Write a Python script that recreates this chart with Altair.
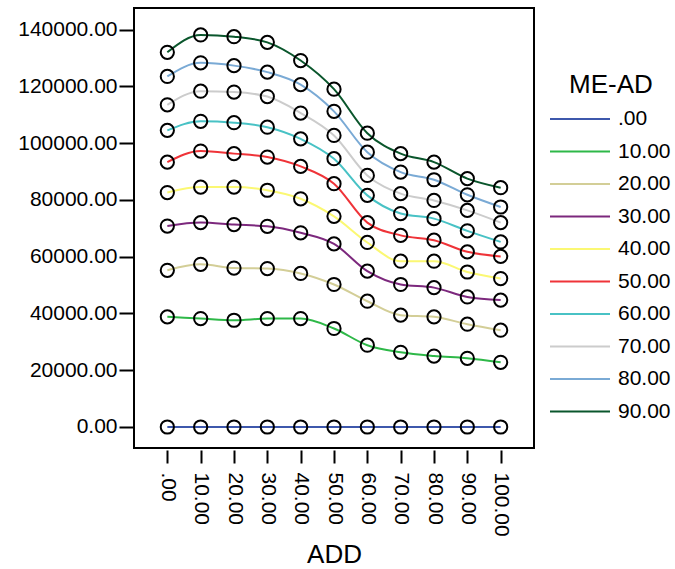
import altair as alt
import pandas as pd

add_labels = [".00", "10.00", "20.00", "30.00", "40.00", "50.00",
              "60.00", "70.00", "80.00", "90.00", "100.00"]
series_labels = [".00", "10.00", "20.00", "30.00", "40.00",
                 "50.00", "60.00", "70.00", "80.00", "90.00"]
colors = ["#3E58AC", "#2EB848", "#D3CE97", "#7C287D", "#FBF873",
          "#EF3338", "#48C2C5", "#CCCCCC", "#7AAAD5", "#0A562C"]

s00 = [0, 0, 0, 0, 0, 0, 0, 0, 0, 0, 0]
s10 = [38800, 38200, 37600, 38200, 38200, 34700, 28800, 26300, 25000, 24200, 22800]
s20 = [55200, 57300, 56000, 55800, 54100, 50200, 44300, 39400, 38800, 36200, 34100]
s30 = [70800, 72000, 71300, 70700, 68400, 64500, 54900, 50200, 49100, 45800, 44700]
s40 = [82600, 84500, 84500, 83400, 80400, 74200, 65000, 58400, 58400, 54600, 52300]
s50 = [93300, 97200, 96300, 95100, 91800, 85700, 72000, 67500, 65800, 61700, 60100]
s60 = [104500, 107700, 107200, 105600, 101500, 94500, 81600, 75200, 73400, 69100, 65200]
s70 = [113500, 118300, 118000, 116400, 110600, 102700, 88600, 82200, 79800, 76300, 72000]
s80 = [123500, 128300, 127300, 125000, 120600, 111200, 96800, 89800, 87100, 81800, 77500]
s90 = [132000, 138100, 137500, 135500, 129100, 119000, 103500, 96300, 93300, 87500, 84300]

all_series = [s00, s10, s20, s30, s40, s50, s60, s70, s80, s90]
y_ticks = [0, 20000, 40000, 60000, 80000, 100000, 120000, 140000]

rows = []
for name, vals in zip(series_labels, all_series):
    for a, v in zip(add_labels, vals):
        rows.append({"ADD": a, "series": name, "value": v})
df = pd.DataFrame(rows)

x_enc = alt.X("ADD:N", sort=add_labels,
              scale=alt.Scale(type="point", padding=1.13),
              axis=alt.Axis(title="ADD", domain=False, offset=2, tickSize=13,
                            tickWidth=2, tickColor="black", labelAngle=90,
                            labelFontSize=21, labelPadding=9, labelColor="black",
                            titleFontSize=26, titleFontWeight="normal",
                            titleColor="black", titlePadding=5))
y_enc = alt.Y("value:Q",
              scale=alt.Scale(domain=[-7400, 147600], nice=False, zero=False),
              axis=alt.Axis(title=None, domain=False, grid=False, values=y_ticks,
                            format=".2f", tickSize=15, tickWidth=2,
                            tickColor="black", labelFontSize=21, labelPadding=2,
                            labelColor="black"))

base = alt.Chart(df)
lines = base.mark_line(interpolate="monotone", strokeWidth=2).encode(
    x=x_enc, y=y_enc,
    color=alt.Color("series:N", sort=series_labels,
                    scale=alt.Scale(domain=series_labels, range=colors),
                    legend=alt.Legend(title="ME-AD", orient="none",
                                      legendX=435, legendY=64,
                                      titleFontSize=26, titleFontWeight="normal",
                                      titleColor="black", labelFontSize=21,
                                      labelColor="black",
                                      symbolType="M-3,0H3", symbolSize=400,
                                      symbolStrokeWidth=2, labelOffset=27,
                                      rowPadding=11.5, titlePadding=10)),
)
points = base.mark_point(shape="circle", filled=False, color="black",
                         size=175, strokeWidth=2, opacity=1).encode(
    x=x_enc, y=y_enc, detail="series:N")

chart = alt.layer(lines, points).properties(
    width=400, height=440, autosize="none",
    padding={"left": 134, "top": 8, "right": 141, "bottom": 121},
    background="white",
).configure(font="Liberation Sans").configure_view(stroke="black", strokeWidth=2)

chart.save("out.html", embed_options={"renderer": "svg", "actions": False})
